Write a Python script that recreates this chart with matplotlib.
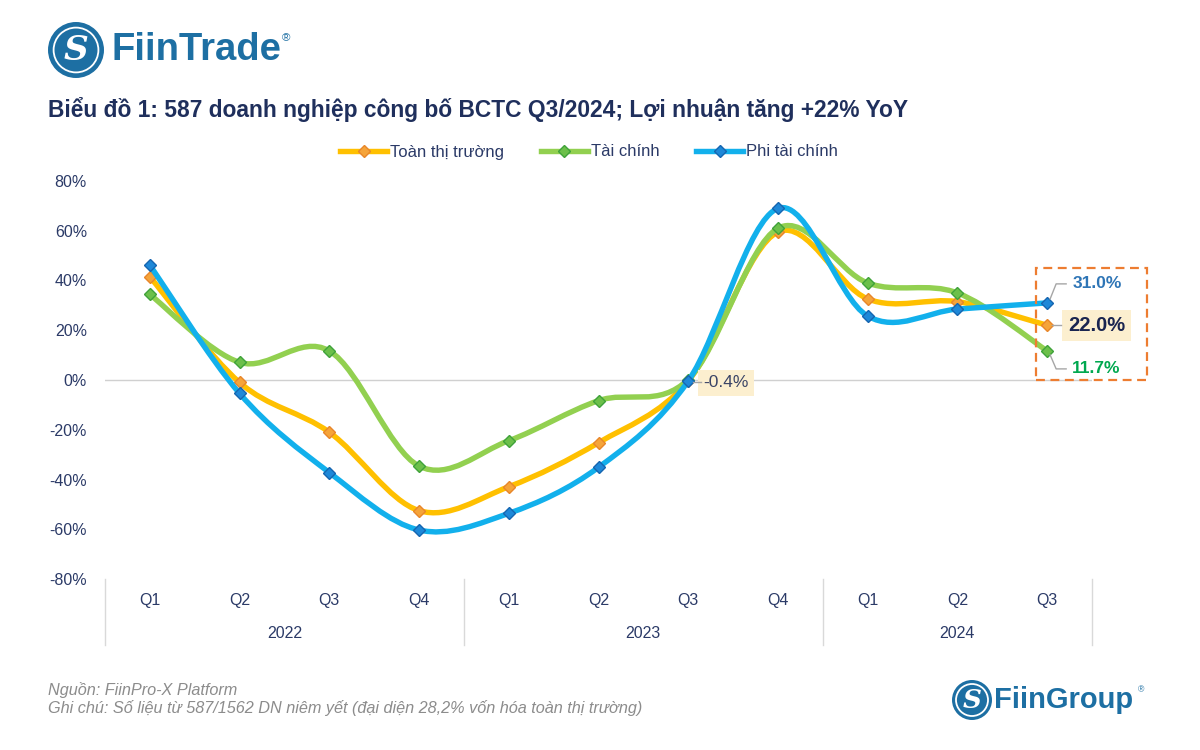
import numpy as np
import matplotlib
matplotlib.use("Agg")
import matplotlib.pyplot as plt
from matplotlib.path import Path
from matplotlib.patches import PathPatch, Rectangle, Circle
from matplotlib.lines import Line2D
import matplotlib.transforms as mtransforms

plt.rcParams['font.family'] = ['Liberation Sans', 'DejaVu Sans']

# ---- data ----
quarters = ['Q1', 'Q2', 'Q3', 'Q4', 'Q1', 'Q2', 'Q3', 'Q4', 'Q1', 'Q2', 'Q3']
years = ['2022', '2023', '2024']
year_sizes = [4, 4, 3]
toan_thi_truong = [41.5, -1.0, -21.0, -52.5, -42.9, -25.2, -0.4, 59.5, 32.6, 31.5, 22.0]
tai_chinh = [34.4, 7.1, 11.7, -34.6, -24.4, -8.3, 0.2, 61.0, 39.0, 35.0, 11.7]
phi_tai_chinh = [46.2, -5.4, -37.2, -60.3, -53.6, -35.1, -0.4, 69.0, 25.7, 28.5, 31.0]

NAVY = '#2B3A67'
TITLE = '#1F2F5C'
LOGO = '#1D6FA3'
W, H = 1200, 750


def smooth_path(xs, ys):
    # excel style smoothed line: bezier segments through the points
    n = len(xs)
    verts = [(xs[0], ys[0])]
    codes = [Path.MOVETO]
    for i in range(n - 1):
        i0 = max(i - 1, 0)
        i3 = min(i + 2, n - 1)
        c1 = (xs[i] + (xs[i + 1] - xs[i0]) / 6, ys[i] + (ys[i + 1] - ys[i0]) / 6)
        c2 = (xs[i + 1] - (xs[i3] - xs[i]) / 6, ys[i + 1] - (ys[i3] - ys[i]) / 6)
        verts += [c1, c2, (xs[i + 1], ys[i + 1])]
        codes += [Path.CURVE4] * 3
    return Path(verts, codes)


fig = plt.figure(figsize=(12, 7.5), dpi=100)
ax = fig.add_axes([105 / W, 1 - 579 / H, (1092 - 105) / W, 398 / H])
ax.set_xlim(-0.5, 10.5)
ax.set_ylim(-80, 80)

x = np.arange(len(quarters))
series = [
    ('Toàn thị trường', toan_thi_truong, '#FFC000', '#F5A43A', '#E8862A'),
    ('Tài chính', tai_chinh, '#92D050', '#6CC04A', '#3FA23A'),
    ('Phi tài chính', phi_tai_chinh, '#12B0EC', '#1E88D8', '#1565B0'),
]
handles = []
for k, (name, vals, lc, mc, ec) in enumerate(series):
    p = PathPatch(smooth_path(x, vals), facecolor='none', edgecolor=lc, lw=3.9,
                  capstyle='round', joinstyle='round', zorder=3 + k)
    ax.add_patch(p)
    ax.plot(x, vals, linestyle='none', marker='D', ms=6.5, mfc=mc, mec=ec,
            mew=1.0, zorder=3.5 + k)
    handles.append(Line2D([], [], color=lc, lw=3.9, marker='D', ms=6.5,
                          mfc=mc, mec=ec, mew=1.0))

ax.axhline(0, color='#D0D0D0', lw=1.0, zorder=1)
for s in ax.spines.values():
    s.set_visible(False)
ax.set_yticks(np.arange(-80, 81, 20))
ax.set_yticklabels([f'{v}%' for v in range(-80, 81, 20)], color=NAVY, fontsize=11.5)
ax.tick_params(axis='y', length=0, pad=13)
ax.set_xticks([])

# category axis: quarters, years, separators
tr = mtransforms.blended_transform_factory(ax.transData, ax.transAxes)
for i, q in enumerate(quarters):
    ax.text(i, -0.055, q, transform=tr, ha='center', va='center',
            color=NAVY, fontsize=11.5)
start = 0
for yr, sz in zip(years, year_sizes):
    ax.text(start + (sz - 1) / 2, -0.137, yr, transform=tr, ha='center',
            va='center', color=NAVY, fontsize=11.5)
    start += sz
for xb in [-0.5, 3.5, 7.5, 10.5]:
    ax.plot([xb, xb], [0, -0.167], transform=tr, color='#D9D9D9', lw=1.0,
            clip_on=False)

# legend
fig.legend(handles, [s[0] for s in series], loc='center',
           bbox_to_anchor=(0.491, 1 - 152 / H), ncol=3, frameon=False,
           fontsize=12, labelcolor=NAVY, handlelength=2.8, columnspacing=2.2,
           handletextpad=0.2)


def leader(xi, yi, offs):
    px, py = ax.transData.transform((xi, yi))
    fig.add_artist(Line2D([px + dx for dx, dy in offs], [py + dy for dx, dy in offs],
                          transform=mtransforms.IdentityTransform(),
                          color='#A6A6A6', lw=1.0, zorder=10))


def label(xi, yi, dx, dy, txt, **kw):
    px, py = ax.transData.transform((xi, yi))
    fig.text((px + dx) / W, (py + dy) / H, txt, va='center', **kw)


# annotation -0.4%
leader(6, toan_thi_truong[6], [(5, -1), (13, -1)])
label(6, toan_thi_truong[6], 15, -2, '-0.4%', color='#3A4466', fontsize=12.5,
      bbox=dict(boxstyle='square,pad=0.3', fc='#FCEFCF', ec='none'))

# last point labels
leader(10, phi_tai_chinh[10], [(3, 4), (9, 19), (19, 19)])
label(10, phi_tai_chinh[10], 26, 19, '31.0%', color='#2E75B6', fontsize=12.5,
      fontweight='bold')
leader(10, toan_thi_truong[10], [(5, 0), (14, 0)])
label(10, toan_thi_truong[10], 21, 0, '22.0%', color='#1A2550', fontsize=14.5,
      fontweight='bold',
      bbox=dict(boxstyle='square,pad=0.3', fc='#FCEFCF', ec='none'))
leader(10, tai_chinh[10], [(3, -4), (9, -18), (19, -18)])
label(10, tai_chinh[10], 25, -18, '11.7%', color='#00A84F', fontsize=12.5,
      fontweight='bold')

fig.add_artist(Rectangle((1036 / W, 1 - 380 / H), 111 / W, 112 / H,
                         transform=fig.transFigure, fill=False, ec='#ED7D31',
                         lw=1.6, ls=(0, (4, 2.5))))

# title
fig.text(48 / W, 1 - 110 / H,
         'Biểu đồ 1: 587 doanh nghiệp công bố BCTC Q3/2024; Lợi nhuận tăng +22% YoY',
         ha='left', va='center', fontsize=16.4, fontweight='bold', color=TITLE)


def logo(cx, cy, r, word, size, wx, rx, ry):
    # cx, cy in pixels from bottom-left
    ident = mtransforms.IdentityTransform()
    fig.add_artist(Circle((cx, cy), r, transform=ident, fc=LOGO, ec='none'))
    fig.add_artist(Circle((cx, cy), r * 0.8, transform=ident, fc='none',
                          ec='white', lw=1.3))
    fig.text(cx / W, cy / H, 'S', ha='center', va='center', color='white',
             fontsize=size * 0.9, family='DejaVu Serif', fontweight='bold',
             fontstyle='italic')
    fig.text(wx / W, cy / H, word, ha='left', va='center', color=LOGO,
             fontsize=size, fontweight='bold')
    fig.text(rx / W, ry / H, '®', ha='center', va='center', color=LOGO,
             fontsize=size * 0.3)


logo(76, H - 50, 28, 'FiinTrade', 27.5, 111, 286, H - 38)
logo(972, H - 700, 20, 'FiinGroup', 21, 994, 1141, H - 690)

# footer
fig.text(48 / W, 1 - 690 / H, 'Nguồn: FiinPro-X Platform', ha='left',
         va='center', fontsize=11.7, fontstyle='italic', color='#8C8C8C')
fig.text(48 / W, 1 - 708 / H,
         'Ghi chú: Số liệu từ 587/1562 DN niêm yết (đại diện 28,2% vốn hóa toàn thị trường)',
         ha='left', va='center', fontsize=11.7, fontstyle='italic', color='#8C8C8C')

fig.savefig('out.png', dpi=100, facecolor='white')
